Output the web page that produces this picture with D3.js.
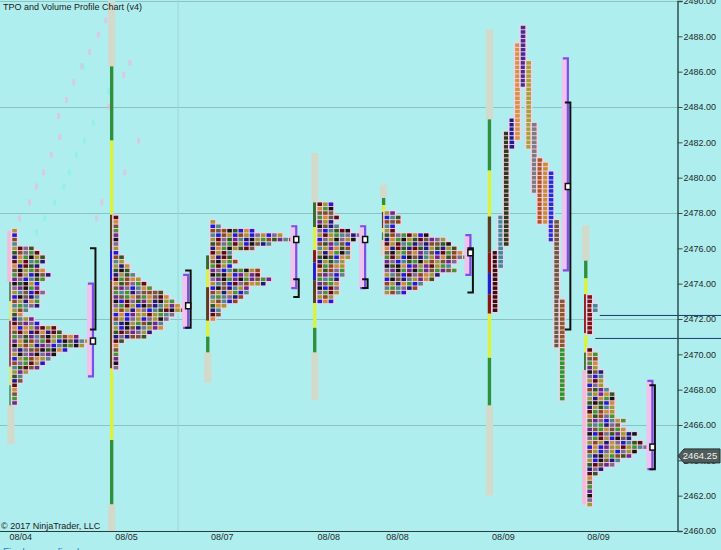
<!DOCTYPE html>
<html>
<head>
<meta charset="utf-8">
<script src="https://cdn.jsdelivr.net/npm/d3@7/dist/d3.min.js"></script>
<style>
body { margin: 0; background: #afeeee; overflow: hidden; }
svg { display: block; }
text { font-family: "Liberation Sans", Arial, sans-serif; }
</style>
</head>
<body>
<script>
/* TPO profile chart */

// price axis
var priceTicks = d3.range(2460, 2491, 2);
var gridPrices = [2466, 2472, 2478, 2484, 2490];
var lastPrice = 2464.25;

// sessions along the bottom (slot = time column)
var dateLabels = ["08/04", "08/05", "08/07", "08/08", "08/08", "08/09", "08/09"];
var dateSlots = [3.6, 22.5, 39.6, 58.6, 70.9, 89.8, 106.8];

// row profiles: first column slot, top price, number of TPOs per 0.25 row (top -> bottom)
var profSlots = [2.1, 20.2, 37.5, 56.6, 68.6, 104.8];
var profTops = [2477.0, 2477.75, 2477.5, 2478.5, 2478.0, 2470.25];
var profRows = [
  [1,1,1,1,4,5,6,6,5,6,7,6,5,5,6,5,5,5,3,2,4,5,8,9,12,14,13,10,8,7,6,5,3,2,2,1,1,1,1,1],
  [1,1,1,1,1,1,1,1,1,2,2,3,3,4,5,6,7,9,10,11,12,13,11,10,9,9,7,6,2,1,1,1,1,1,1],
  [1,2,8,13,15,11,8,4,4,5,4,9,9,11,10,7,7,6,5,3,2,2,1],
  [3,3,3,4,3,4,6,8,7,6,6,6,6,5,5,5,5,4,4,4,4,3,3],
  [2,3,3,2,2,8,11,12,13,14,15,13,12,13,10,9,7,6,4],
  [1,2,2,2,2,3,3,3,3,4,5,5,5,5,5,5,7,6,7,9,8,10,11,9,8,6,5,3,2,1,1,1,1,1,1,1]
];

// split periods (one column per period) on 08/09
var columnSlots = [87.9, 88.9, 89.9, 90.9, 91.9, 92.9, 93.9, 94.9, 95.9, 96.9, 97.9, 98.9, 99.9, 99.9, 104.8, 105.8];
var columnTops = [2475.75, 2477.75, 2482.5, 2483.25, 2487.5, 2488.5, 2486.5, 2483.0, 2481.0, 2480.75, 2480.25, 2477.5, 2473.0, 2470.25, 2473.25, 2472.75];
var columnBottoms = [2472.5, 2475.0, 2476.25, 2481.75, 2482.25, 2485.25, 2481.75, 2479.25, 2477.5, 2477.5, 2476.5, 2470.5, 2470.5, 2467.5, 2471.25, 2472.5];
var columnPeriods = ["k","t","o","n","a","v","l","g","b","c","u","m","r","e","d","t"];

// session range bars: [top, bottom, period kind]
var barSlots = [1.66, 19.64, 36.8, 55.9, 68.2, 87.1, 104.3];
var barSegs = [
  [[2477.0,2474.1,"P"],[2474.1,2473.0,"D"],[2473.0,2471.9,"Y"],[2471.9,2469.3,"R"],[2469.3,2468.25,"Y"],[2468.25,2467.1,"G"],[2467.1,2464.9,"L"]],
  [[2490,2486.3,"L"],[2486.3,2482.1,"G"],[2482.1,2477.9,"Y"],[2477.9,2475.9,"B"],[2475.9,2474.2,"U"],[2474.2,2469.2,"B"],[2469.2,2465.15,"Y"],[2465.15,2461.5,"G"],[2461.5,2460,"L"]],
  [[2475.6,2474.8,"D"],[2474.8,2473.8,"Y"],[2473.8,2471.9,"B"],[2471.9,2471.0,"Y"],[2471.0,2470.1,"G"],[2470.1,2468.4,"L"]],
  [[2481.4,2478.6,"L"],[2478.6,2477.2,"D"],[2477.2,2475.9,"Y"],[2475.9,2475.2,"R"],[2475.2,2474.2,"U"],[2474.2,2472.9,"B"],[2472.9,2471.5,"Y"],[2471.5,2470.1,"G"],[2470.1,2467.4,"L"]],
  [[2479.6,2478.85,"L"],[2478.85,2478.45,"G"],[2478.45,2478.06,"Y"],[2478.06,2477.15,"B"],[2477.15,2476.9,"Y"],[2476.9,2476.47,"G"],[2476.47,2475.6,"L"]],
  [[2488.4,2483.3,"L"],[2483.3,2480.4,"G"],[2480.4,2477.8,"Y"],[2477.8,2475.75,"B"],[2475.75,2474.6,"R"],[2474.6,2473.4,"U"],[2473.4,2472.3,"R"],[2472.3,2469.8,"Y"],[2469.8,2467.1,"G"],[2467.1,2462.0,"L"]],
  [[2477.3,2475.3,"L"],[2475.3,2474.3,"G"],[2474.3,2473.4,"Y"],[2473.4,2471.2,"R"],[2471.1,2470.1,"Y"],[2470.1,2469.1,"D"],[2469.1,2461.5,"P"]]
];

// value area / initial balance / POC per session
var bracketSlots = [16.6, 33.6, 52.9, 65.2, 84.0, 101.4, 116.5];
var vaHigh = [2474.0, 2474.5, 2477.25, 2477.25, 2476.75, 2486.75, 2468.5];
var vaLow  = [2468.75, 2471.5, 2473.75, 2473.75, 2474.5, 2474.75, 2463.5];
var ibHigh = [2476.0, 2474.75, 2474.25, 2474.25, 2476.0, 2484.25, 2468.25];
var ibLow  = [2471.4, 2471.5, 2473.25, 2473.75, 2473.5, 2471.4, 2463.5];
var pocs   = [2470.75, 2472.75, 2476.5, 2476.5, 2475.75, 2479.5, 2464.75];

// naked POC lines
var nakedPocPrices = [2472.2, 2470.9];
var nakedPocStarts = [107.1, 106.3];

// faint marks top left
var ghostPink = [[18.6,2488.9],[17.3,2488.1],[15.7,2487.1],[14.3,2486.3],[12.9,2485.4],[11.6,2484.4],[10.2,2483.5],[10.4,2482.3],[8.9,2481.3],[7.5,2480.3],[6.25,2479.5],[5.0,2478.6],[3.2,2477.7],[22.9,2486.5],[21.8,2485.8],[19.1,2484.0],[24.5,2482.1],[22.0,2480.3],[17.9,2478.6],[17.0,2477.7]];
var ghostCyan = [[14.6,2486.3],[19.1,2484.9],[16.4,2483.1],[14.8,2482.1],[13.4,2481.3],[12.1,2480.3],[11.1,2479.5],[9.5,2478.6],[7.7,2477.7],[6.25,2476.9]];

var W = 721, H = 550, axisX = 677;

var barColors = { L: "#d2dbcb", G: "#2f8f3a", Y: "#dcf23a", D: "#3a6a2a", B: "#5b3d1d", R: "#8a1414", U: "#2020c8", P: "#f2bcd8" };
var periodColors = { k: "#3a0c0c", t: "#3a8c9a", o: "#2c3a18", n: "#1c1c8c", a: "#d8923e", v: "#4a2a8c", l: "#a8a032", g: "#7c7c7c", b: "#b0521c", c: "#c88c32", u: "#1c32d8", m: "#6a5a3c", r: "#8a5a2a", e: "#2a9a2a", d: "#7a1414" };
var tpoPalette = ["#a09a2e","#2b5a1c","#3c9a2e","#1c1cd4","#1c1c78","#6a2a8a","#8a4a1e","#5c0c0c","#141414","#4b8b8b","#c8903c","#7c6c8c","#9a9a40","#6e5a3a"];

var svg = d3.select("body").append("svg").attr("width", W).attr("height", H);
svg.append("rect").attr("width", W).attr("height", H).attr("fill", "#afeeee");

var y = d3.scaleLinear().domain([2460, 2490]).range([531, 1]);
var x = d3.scaleLinear().domain([0, 100]).range([0, 560]);
var rowH = y(2460) - y(2460.25);
var colW = x(1) - x(0);

// grid
svg.selectAll(".hgrid").data(gridPrices).enter().append("line")
  .attr("x1", 0).attr("x2", axisX)
  .attr("y1", function(d){ return y(d) + 0.5; })
  .attr("y2", function(d){ return y(d) + 0.5; })
  .attr("stroke", "#8cc2c2").attr("stroke-width", 1);
svg.append("line").attr("x1", x(31.8)).attr("x2", x(31.8)).attr("y1", 0).attr("y2", y(2460))
  .attr("stroke", "#9fd6d6").attr("stroke-width", 1);

// ghost marks
svg.selectAll(".gp").data(ghostPink).enter().append("rect")
  .attr("x", function(d){ return x(d[0]); }).attr("y", function(d){ return y(d[1]) - 3; })
  .attr("width", 3).attr("height", 6).attr("fill", "#f6b2da").attr("opacity", 0.6);
svg.selectAll(".gc").data(ghostCyan).enter().append("rect")
  .attr("x", function(d){ return x(d[0]); }).attr("y", function(d){ return y(d[1]) - 3; })
  .attr("width", 3).attr("height", 6).attr("fill", "#7ef2f2").attr("opacity", 0.6);

// session bars
barSegs.forEach(function(segs, i){
  var g = svg.append("g");
  g.selectAll("rect").data(segs).enter().append("rect")
    .attr("x", function(d){ return d[2] == "L" || d[2] == "P" ? x(barSlots[i]) - 2 : x(barSlots[i]); })
    .attr("width", function(d){ return d[2] == "L" || d[2] == "P" ? colW * 0.6 + 4 : colW * 0.6; })
    .attr("y", function(d){ return y(d[0]); })
    .attr("height", function(d){ return y(d[1]) - y(d[0]); })
    .attr("fill", function(d){ return barColors[d[2]]; });
});

// row profiles
profRows.forEach(function(rows, p){
  var g = svg.append("g");
  var data = rows.map(function(w, r){ return { r: r, w: w, price: profTops[p] - r * 0.25 }; });
  // halo
  g.selectAll(".halo").data(data).enter().append("rect")
    .attr("x", x(profSlots[p]) - 1)
    .attr("y", function(d){ return y(d.price) - rowH / 2 - 0.6; })
    .attr("width", function(d){ return d.w * colW + 2; })
    .attr("height", rowH + 1.2)
    .attr("fill", "#f0d2ea");
  var cells = [];
  data.forEach(function(d){
    for (var c = 0; c < d.w; c++) cells.push({ r: d.r, c: c, price: d.price });
  });
  g.selectAll(".tpo").data(cells).enter().append("rect")
    .attr("x", function(d){ return x(profSlots[p] + d.c) + 0.5; })
    .attr("y", function(d){ return y(d.price) - rowH / 2 + 0.5; })
    .attr("width", colW - 1)
    .attr("height", rowH - 0.9)
    .attr("fill", function(d){
      return tpoPalette[(d.c * 5 + d.r * 3 + p * 7 + ((d.r * d.c) % 5)) % tpoPalette.length];
    });
});

// split columns
columnSlots.forEach(function(s, i){
  var g = svg.append("g");
  g.append("rect")
    .attr("x", x(s) - 1).attr("width", colW + 2)
    .attr("y", y(columnTops[i]) - rowH / 2 - 0.6)
    .attr("height", y(columnBottoms[i]) - y(columnTops[i]) + rowH + 1.2)
    .attr("fill", "#f0d2ea");
  var prices = d3.range(columnTops[i], columnBottoms[i] - 0.01, -0.25);
  g.selectAll(".sq").data(prices).enter().append("rect")
    .attr("x", x(s) + 0.5)
    .attr("y", function(d){ return y(d) - rowH / 2 + 0.5; })
    .attr("width", colW - 1)
    .attr("height", rowH - 0.9)
    .attr("fill", periodColors[columnPeriods[i]]);
});

// value area + initial balance brackets
bracketSlots.forEach(function(s, i){
  var bx = x(s);
  var g = svg.append("g");
  g.append("rect").attr("x", bx - 6).attr("width", 7)
    .attr("y", y(vaHigh[i]) - 1).attr("height", y(vaLow[i]) - y(vaHigh[i]) + 2)
    .attr("fill", "#efc3ee");
  g.append("path")
    .attr("d", "M" + (bx - 5) + "," + y(vaHigh[i]) + "H" + bx + "V" + y(vaLow[i]) + "H" + (bx - 5))
    .attr("fill", "none").attr("stroke", "#7a50e6").attr("stroke-width", 2.2);
  g.append("path")
    .attr("d", "M" + (bx - 3) + "," + y(ibHigh[i]) + "H" + (bx + 2.5) + "V" + y(ibLow[i]) + "H" + (bx - 3))
    .attr("fill", "none").attr("stroke", "#111").attr("stroke-width", 2);
  g.append("rect").attr("x", bx - 2.5).attr("y", y(pocs[i]) - 3)
    .attr("width", 5).attr("height", 6)
    .attr("fill", "#fff").attr("stroke", "#111").attr("stroke-width", 1.5);
});

// naked POC lines
svg.selectAll(".npoc").data(nakedPocPrices).enter().append("line")
  .attr("x1", function(d, i){ return x(nakedPocStarts[i]); }).attr("x2", W)
  .attr("y1", function(d){ return y(d); }).attr("y2", function(d){ return y(d); })
  .attr("stroke", "#1d3a6e").attr("stroke-width", 1);

// bottom line
svg.append("line").attr("x1", 0).attr("x2", axisX).attr("y1", y(2460) + 0.5).attr("y2", y(2460) + 0.5)
  .attr("stroke", "#2d3b3b").attr("stroke-width", 1);

// right axis
var yAxis = d3.axisRight(y).tickValues(priceTicks).tickFormat(d3.format(".2f")).tickSize(5).tickPadding(1);
var ya = svg.append("g").attr("transform", "translate(" + (axisX + 0.5) + ",0)").call(yAxis);
ya.select(".domain").attr("stroke", "#2e4f4c").attr("stroke-width", 1.5);
ya.selectAll(".tick line").attr("stroke", "#2e4f4c");
ya.selectAll(".tick text").attr("fill", "#1e2a2a").style("font-size", "9px")
  .style("font-family", "'Liberation Sans', Arial, sans-serif");

// bottom axis labels
var xAxis = d3.axisBottom(x).tickValues(dateSlots).tickSize(0).tickPadding(3)
  .tickFormat(function(d, i){ return dateLabels[i]; });
var xa = svg.append("g").attr("transform", "translate(0," + y(2460) + ")").call(xAxis);
xa.select(".domain").remove();
xa.selectAll(".tick text").attr("fill", "#1e2a2a").style("font-size", "9px")
  .style("font-family", "'Liberation Sans', Arial, sans-serif");

// last price marker
var lp = y(lastPrice);
svg.append("path")
  .attr("d", "M" + (axisX + 1) + "," + lp + "L" + (axisX + 7) + "," + (lp - 7) + "H" + 720 + "V" + (lp + 7) + "H" + (axisX + 7) + "Z")
  .attr("fill", "#4f5c59").attr("stroke", "#2a3432");
svg.append("text").attr("x", 700).attr("y", lp + 3.5).attr("text-anchor", "middle")
  .attr("fill", "#f2f2f2").style("font-size", "9.5px").text("2464.25");

// texts
svg.append("text").attr("x", 3).attr("y", 10).attr("fill", "#1a1a1a").style("font-size", "9px")
  .text("TPO and Volume Profile Chart (v4)");
svg.append("text").attr("x", 1).attr("y", 529).attr("fill", "#1a1a1a").style("font-size", "9px")
  .text("© 2017 NinjaTrader, LLC");
svg.append("text").attr("x", 3).attr("y", 556).attr("fill", "#3a7ad0").style("font-size", "10px")
  .text("Final - www.fin-alg.com");
</script>
</body>
</html>
